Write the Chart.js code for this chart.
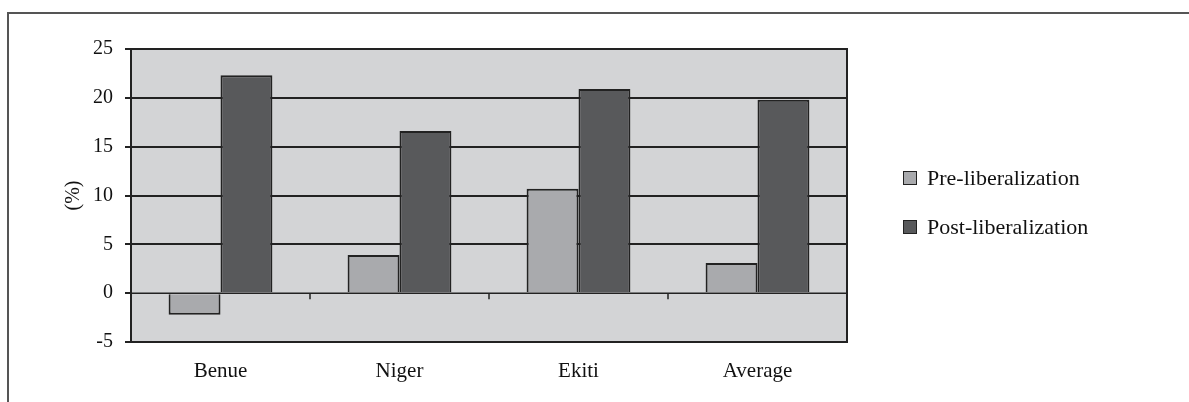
<!DOCTYPE html>
<html>
<head>
<meta charset="utf-8">
<script src="https://cdn.jsdelivr.net/npm/chart.js@4/dist/chart.umd.min.js"></script>
<style>
  body { margin: 0; background: #fff; }
  #wrap { position: relative; width: 1189px; height: 402px; }
  #frame { position: absolute; left: 7px; top: 12px; right: 0; bottom: 0;
           border-top: 2px solid #555; border-left: 2px solid #555; }
  #legend { position: absolute; left: 903px; top: 163px; font-family: "Liberation Serif", serif;
            font-size: 22px; color: #111; }
  .item { display: flex; align-items: center; height: 30px; margin-bottom: 19px; }
  .box { width: 12px; height: 12px; border: 1px solid #222; margin-right: 10px; }
</style>
</head>
<body>
<div id="wrap">
  <div id="frame"></div>
  <canvas id="chart" width="1189" height="402"></canvas>
  <div id="legend"></div>
</div>
<script>
const categories = ['Benue', 'Niger', 'Ekiti', 'Average'];
const preValues = [-2.2, 3.9, 10.7, 3.1];
const postValues = [22.3, 16.6, 20.9, 19.8];
const seriesNames = ['Pre-liberalization', 'Post-liberalization'];
const seriesColors = ['#a9aaad', '#58595b'];

document.addEventListener('DOMContentLoaded', () => {
    // legend as plain html on the right
    const legend = document.getElementById('legend');
    seriesNames.forEach((name, i) => {
        const item = document.createElement('div');
        item.className = 'item';
        item.innerHTML = '<span class="box" style="background:' + seriesColors[i] + '"></span>' + name;
        legend.appendChild(item);
    });

    // zero line with small ticks between categories
    const zeroTicks = {
        id: 'zeroTicks',
        afterDatasetsDraw(chart) {
            const ctx = chart.ctx;
            const x = chart.scales.x;
            const y0 = chart.scales.y.getPixelForValue(0);
            ctx.save();
            ctx.strokeStyle = '#222';
            ctx.lineWidth = 1.5;
            ctx.beginPath();
            ctx.moveTo(chart.chartArea.left, y0);
            ctx.lineTo(chart.chartArea.right, y0);
            for (let i = 1; i < categories.length; i++) {
                const px = (x.getPixelForValue(i - 1) + x.getPixelForValue(i)) / 2;
                ctx.moveTo(px, y0);
                ctx.lineTo(px, y0 + 6);
            }
            ctx.stroke();
            ctx.restore();
        }
    };

    const plotBg = {
        id: 'plotBg',
        beforeDraw(chart) {
            const a = chart.chartArea;
            chart.ctx.save();
            chart.ctx.fillStyle = '#d3d4d6';
            chart.ctx.fillRect(a.left, a.top, a.right - a.left, a.bottom - a.top);
            chart.ctx.strokeStyle = '#222';
            chart.ctx.lineWidth = 2;
            chart.ctx.strokeRect(a.left, a.top, a.right - a.left, a.bottom - a.top);
            chart.ctx.restore();
        }
    };

    const ctx = document.getElementById('chart').getContext('2d');
    new Chart(ctx, {
        type: 'bar',
        data: {
            labels: categories,
            datasets: [{
                label: seriesNames[0],
                data: preValues,
                backgroundColor: seriesColors[0],
                borderColor: '#222',
                borderWidth: 2
            }, {
                label: seriesNames[1],
                data: postValues,
                backgroundColor: seriesColors[1],
                borderColor: '#222',
                borderWidth: 2
            }]
        },
        options: {
            responsive: false,
            animation: false,
            layout: { padding: { left: 60, right: 342, top: 49, bottom: 0 } },
            datasets: { bar: { categoryPercentage: 0.58, barPercentage: 1.0 } },
            plugins: { legend: { display: false }, tooltip: { enabled: false } },
            scales: {
                x: {
                    grid: { display: false },
                    border: { display: false },
                    ticks: { color: '#111', padding: 9, font: { family: 'Liberation Serif', size: 21 } },
                    afterFit: (scale) => { scale.height = 60; }
                },
                y: {
                    min: -5,
                    max: 25,
                    ticks: { stepSize: 5, color: '#111', padding: 12, font: { family: 'Liberation Serif', size: 20 } },
                    grid: {
                        color: (c) => c.tick.value === 0 ? 'rgba(0,0,0,0)' : '#222',
                        lineWidth: 2,
                        tickColor: '#222',
                        tickLength: 6,
                        drawOnChartArea: true
                    },
                    border: { color: '#222', width: 2 },
                    title: { display: true, text: '(%)', color: '#111', padding: 2, font: { family: 'Liberation Serif', size: 20 } },
                    afterFit: (scale) => { scale.width = 71; }
                }
            }
        },
        plugins: [plotBg, zeroTicks]
    });
});
</script>
</body>
</html>
